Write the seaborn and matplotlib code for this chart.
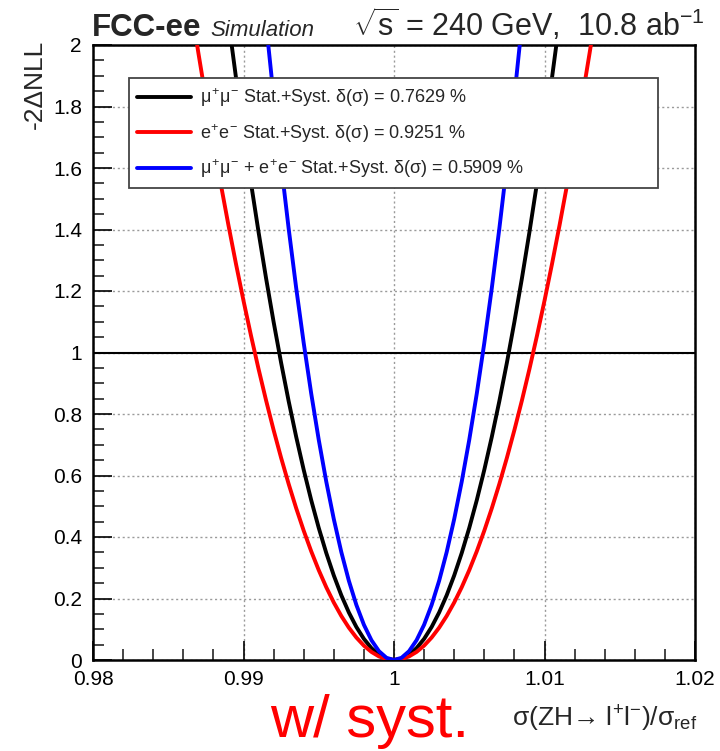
import numpy as np
import pandas as pd
import matplotlib
matplotlib.use("Agg")
import matplotlib.pyplot as plt
from matplotlib.lines import Line2D
from matplotlib.ticker import MultipleLocator, FixedLocator
import seaborn as sns

# Fit results: relative uncertainty on sigma(ZH) in percent
channels = [r"$\mu^{+}\mu^{-}$", r"$e^{+}e^{-}$", r"$\mu^{+}\mu^{-}$ + $e^{+}e^{-}$"]
channel_keys = ["mumu", "ee", "combined"]
delta_sigma_pct = [0.7629, 0.9251, 0.5909]
line_colors = ["#000000", "#ff0000", "#0000ff"]

# Likelihood scan points in sigma/sigma_ref
scan_points = np.round(np.arange(0.975, 1.02501, 0.0005), 5)

x_ticks = [0.98, 0.99, 1.00, 1.01, 1.02]
x_tick_labels = ["0.98", "0.99", "1", "1.01", "1.02"]
y_ticks = [0, 0.2, 0.4, 0.6, 0.8, 1.0, 1.2, 1.4, 1.6, 1.8, 2.0]
y_tick_labels = ["0", "0.2", "0.4", "0.6", "0.8", "1", "1.2", "1.4", "1.6", "1.8", "2"]

sns.set_theme(style="ticks")
FONT = ["Liberation Sans", "DejaVu Sans"]
plt.rcParams["font.family"] = FONT
plt.rcParams["mathtext.fontset"] = "custom"
plt.rcParams["mathtext.rm"] = "Liberation Sans"
plt.rcParams["mathtext.it"] = "Liberation Sans"
plt.rcParams["mathtext.bf"] = "Liberation Sans:bold"

# Parabolic -2 Delta NLL around the best fit, one curve per channel
rows = []
for key, d in zip(channel_keys, delta_sigma_pct):
    sigma = d / 100.0
    nll = ((scan_points - 1.0) / sigma) ** 2
    rows.append(pd.DataFrame({"mu": scan_points, "nll": nll, "channel": key}))
df = pd.concat(rows, ignore_index=True)

W, H = 720, 751
fig = plt.figure(figsize=(W / 100, H / 100), dpi=100)
ax = fig.add_axes([93 / W, 91 / H, (695 - 93) / W, (660 - 45) / H])

ax.grid(True, which="major", linestyle=(0, (1.5, 2)), color="#9a9a9a", linewidth=1.0)
ax.axhline(1.0, color="black", linewidth=1.5, zorder=2)

sns.lineplot(data=df, x="mu", y="nll", hue="channel", hue_order=channel_keys,
             palette=dict(zip(channel_keys, line_colors)), linewidth=2.8,
             legend=False, sort=True, ax=ax, zorder=3)

ax.set_xlim(0.98, 1.02)
ax.set_ylim(0, 2)
ax.xaxis.set_major_locator(FixedLocator(x_ticks))
ax.set_xticklabels(x_tick_labels)
ax.yaxis.set_major_locator(FixedLocator(y_ticks))
ax.set_yticklabels(y_tick_labels)
ax.xaxis.set_minor_locator(MultipleLocator(0.002))
ax.yaxis.set_minor_locator(MultipleLocator(0.05))
ax.tick_params(which="major", direction="in", length=14, width=1.2, labelsize=15,
               colors="black", top=False, right=False)
ax.tick_params(which="minor", direction="in", length=8, width=1.2, top=False, right=False)
ax.tick_params(axis="x", which="major", pad=7)
ax.tick_params(axis="y", which="major", pad=8)
ax.set_xlabel("")
ax.set_ylabel("")
for s in ax.spines.values():
    s.set_linewidth(1.8)
    s.set_color("black")

# Legend
handles = [Line2D([], [], color=c, linewidth=2.8) for c in line_colors]
labels = [f"{ch} Stat.+Syst. δ(σ) = {d:.4f} %" for ch, d in zip(channels, delta_sigma_pct)]
leg = ax.legend(handles, labels,
                bbox_to_anchor=(129 / W, 1 - 187 / H, (658 - 129) / W, (187 - 78) / H),
                bbox_transform=fig.transFigure, loc="upper left", mode="expand",
                borderaxespad=0, fancybox=False, framealpha=1, edgecolor="#444444",
                fontsize=13, handlelength=3.0, handletextpad=0.5, labelspacing=0.72,
                borderpad=0.45)
leg.get_frame().set_linewidth(1.3)
leg.set_zorder(5)

# Header
fig.text(92 / W, 1 - 36 / H, "FCC-ee", fontsize=22.5, fontweight="bold", va="baseline", ha="left")
fig.text(210 / W, 1 - 36 / H, "Simulation", fontsize=16, fontstyle="italic", va="baseline", ha="left")
fig.text(705 / W, 1 - 36 / H, r"$\sqrt{\mathrm{s}}$ = 240 GeV,  10.8 ab$^{-1}$",
         fontsize=22, va="baseline", ha="right")

# Axis titles
fig.text(35 / W, 1 - 40 / H, "-2ΔNLL", fontsize=19, rotation=90, ha="center", va="top")
fig.text(697 / W, 1 - 727 / H, r"σ(ZH→ l$^{+}$l$^{-}$)/σ$_{\mathrm{ref}}$",
         fontsize=19, ha="right", va="baseline")
fig.text(370 / W, 1 - 737 / H, "w/ syst.", fontsize=43, color="#ff0000",
         ha="center", va="baseline")

fig.savefig("out.png", dpi=100)
